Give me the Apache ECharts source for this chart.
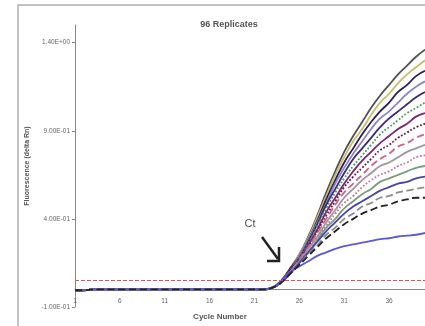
<!DOCTYPE html>
<html>
<head>
<meta charset="utf-8">
<script src="https://cdn.jsdelivr.net/npm/echarts@6/dist/echarts.min.js"></script>
<style>
  html, body { margin: 0; padding: 0; background: #fff; }
  #chart { width: 425px; height: 326px; }
</style>
</head>
<body>
<div id="chart"></div>
<script>
// cycles 1..40
const cycles = Array.from({ length: 40 }, (_, i) => String(i + 1))

// y axis ticks
const yTicks = [-0.1, 0.4, 0.9, 1.4]
const yTickLabels = ['-1.00E-01', '4.00E-01', '9.00E-01', '1.40E+00']

// flat part shared by all wells, cycles 1-21
const baseline = [-0.005, -0.005, 0, 0, 0, 0, 0, 0, 0, 0, 0, 0, 0, 0, 0, 0, 0, 0, 0, 0, 0]

// amplification part, cycles 22-40 (top of the fan to the bottom)
const well01 = [0, 0.01, 0.05, 0.12, 0.20, 0.30, 0.42, 0.55, 0.67, 0.78, 0.87, 0.95, 1.03, 1.10, 1.16, 1.22, 1.27, 1.32, 1.36]
const well02 = [0, 0.01, 0.05, 0.12, 0.20, 0.29, 0.41, 0.53, 0.65, 0.75, 0.84, 0.91, 0.99, 1.06, 1.11, 1.17, 1.22, 1.26, 1.30]
const well03 = [0, 0.01, 0.05, 0.12, 0.19, 0.28, 0.39, 0.51, 0.62, 0.72, 0.80, 0.88, 0.95, 1.01, 1.06, 1.12, 1.16, 1.21, 1.24]
const well04 = [0, 0.01, 0.05, 0.11, 0.19, 0.28, 0.38, 0.49, 0.60, 0.69, 0.77, 0.84, 0.91, 0.97, 1.01, 1.06, 1.11, 1.15, 1.18]
const well05 = [0, 0.01, 0.05, 0.11, 0.18, 0.27, 0.37, 0.48, 0.57, 0.66, 0.74, 0.80, 0.86, 0.92, 0.97, 1.01, 1.05, 1.09, 1.12]
const well06 = [0, 0.01, 0.05, 0.11, 0.18, 0.26, 0.36, 0.46, 0.55, 0.63, 0.70, 0.76, 0.82, 0.88, 0.92, 0.96, 1.00, 1.03, 1.06]
const well07 = [0, 0.01, 0.05, 0.11, 0.17, 0.25, 0.34, 0.44, 0.52, 0.60, 0.67, 0.73, 0.78, 0.83, 0.87, 0.91, 0.94, 0.98, 1.00]
const well08 = [0, 0.01, 0.04, 0.11, 0.17, 0.24, 0.33, 0.42, 0.50, 0.58, 0.64, 0.69, 0.74, 0.79, 0.82, 0.86, 0.89, 0.92, 0.94]
const well09 = [0, 0.01, 0.04, 0.10, 0.17, 0.24, 0.32, 0.40, 0.48, 0.55, 0.60, 0.65, 0.70, 0.74, 0.77, 0.81, 0.83, 0.86, 0.88]
const well10 = [0, 0.01, 0.04, 0.10, 0.16, 0.23, 0.30, 0.38, 0.45, 0.52, 0.57, 0.62, 0.66, 0.70, 0.72, 0.75, 0.78, 0.80, 0.82]
const well11 = [0, 0.01, 0.04, 0.10, 0.16, 0.22, 0.29, 0.36, 0.43, 0.49, 0.53, 0.58, 0.62, 0.65, 0.67, 0.70, 0.72, 0.75, 0.76]
const well12 = [0, 0.01, 0.04, 0.10, 0.15, 0.21, 0.28, 0.35, 0.40, 0.46, 0.50, 0.54, 0.57, 0.61, 0.63, 0.65, 0.67, 0.69, 0.70]
const well13 = [0, 0.01, 0.04, 0.09, 0.15, 0.21, 0.27, 0.33, 0.38, 0.43, 0.47, 0.50, 0.53, 0.56, 0.58, 0.60, 0.61, 0.63, 0.64]
const well14 = [0, 0.01, 0.04, 0.09, 0.14, 0.20, 0.25, 0.31, 0.35, 0.40, 0.43, 0.47, 0.49, 0.52, 0.53, 0.55, 0.56, 0.57, 0.58]
// the low blue one
const well15 = [0, 0.01, 0.05, 0.10, 0.13, 0.16, 0.19, 0.21, 0.23, 0.245, 0.255, 0.265, 0.275, 0.285, 0.29, 0.30, 0.305, 0.31, 0.32]
// black dashed, bottom of the fan, drawn last
const well16 = [0, 0.01, 0.04, 0.09, 0.14, 0.19, 0.24, 0.29, 0.33, 0.37, 0.40, 0.43, 0.45, 0.47, 0.48, 0.50, 0.51, 0.52, 0.52]

const threshold = 0.05

const wells = [
  { data: well01, color: '#505050', type: 'solid' },
  { data: well02, color: '#c9bb6a', type: 'solid' },
  { data: well03, color: '#2e1a5c', type: 'solid' },
  { data: well04, color: '#8a88c4', type: 'solid' },
  { data: well05, color: '#3a2a7a', type: 'solid' },
  { data: well06, color: '#4f9a55', type: 'dotted' },
  { data: well07, color: '#7d2577', type: 'solid' },
  { data: well08, color: '#6e1a3c', type: 'dotted' },
  { data: well09, color: '#d0608a', type: 'dashed' },
  { data: well10, color: '#9a9a9a', type: 'solid' },
  { data: well11, color: '#c479a0', type: 'dotted' },
  { data: well12, color: '#7f9e80', type: 'solid' },
  { data: well13, color: '#4545ad', type: 'solid' },
  { data: well14, color: '#8c8c8c', type: 'dashed' },
  { data: well15, color: '#5a5ad8', type: 'solid' },
  { data: well16, color: '#222222', type: 'dashed' }
]

const chart = echarts.init(document.getElementById('chart'))
const font = '"Liberation Sans", Arial, sans-serif'

const series = wells.map((w, i) => ({
  name: 'well' + (i + 1),
  type: 'line',
  data: baseline.concat(w.data),
  symbol: 'none',
  smooth: true,
  lineStyle: { width: 1.8, color: w.color, type: w.type },
  z: 3
}))

series[0].markLine = {
  silent: true,
  symbol: 'none',
  label: { show: false },
  lineStyle: { color: '#e8504a', type: 'dashed', width: 1 },
  data: [{ yAxis: threshold }]
}

const option = {
  animation: false,
  title: {
    text: '96 Replicates',
    left: 224,
    top: 15,
    textAlign: 'center',
    textStyle: { fontFamily: font, fontSize: 9, fontWeight: 'bold', color: '#555' }
  },
  grid: { left: 75, right: 0, top: 25, bottom: 19 },
  xAxis: {
    type: 'category',
    data: cycles,
    boundaryGap: false,
    offset: -17.6,
    axisLine: { onZero: false, lineStyle: { color: '#888', width: 1 } },
    axisTick: { show: false },
    axisLabel: { interval: 4, margin: 8, fontSize: 6.5, color: '#666', fontFamily: font },
    splitLine: { show: false }
  },
  yAxis: {
    type: 'value',
    min: -0.1,
    max: 1.5,
    name: 'Fluorescence (delta Rn)',
    nameLocation: 'middle',
    nameGap: 42,
    nameTextStyle: { fontFamily: font, fontSize: 7, fontWeight: 'bold', color: '#555' },
    axisLine: { show: true, lineStyle: { color: '#888', width: 1 } },
    axisTick: { show: true, length: 3, customValues: yTicks, lineStyle: { color: '#888' } },
    axisLabel: {
      customValues: yTicks,
      margin: 5,
      fontSize: 6.5,
      color: '#666',
      fontFamily: font,
      formatter: (v) => {
        let idx = 0
        yTicks.forEach((t, i) => { if (Math.abs(t - v) < Math.abs(yTicks[idx] - v)) idx = i })
        return yTickLabels[idx]
      }
    },
    splitLine: { show: false }
  },
  graphic: [
    {
      type: 'rect',
      shape: { x: 18, y: 5, width: 430, height: 340 },
      style: { fill: 'none', stroke: '#b0b0b0', lineWidth: 1.5 },
      silent: true
    },
    {
      type: 'text',
      x: 220,
      y: 317,
      style: {
        text: 'Cycle Number', fontFamily: font, fontSize: 8, fontWeight: 'bold',
        fill: '#555', align: 'center', verticalAlign: 'middle'
      }
    },
    {
      type: 'text',
      x: 250,
      y: 224,
      style: {
        text: 'Ct', fontFamily: font, fontSize: 11,
        fill: '#555', align: 'center', verticalAlign: 'middle'
      }
    },
    {
      type: 'polyline',
      shape: { points: [[262, 237], [278, 259]] },
      style: { stroke: '#222', lineWidth: 2.5, fill: 'none' }
    },
    {
      type: 'polyline',
      shape: { points: [[279, 247], [279, 261], [267, 261]] },
      style: { stroke: '#222', lineWidth: 2.5, fill: 'none' }
    }
  ],
  series
}

chart.setOption(option)
</script>
</body>
</html>
